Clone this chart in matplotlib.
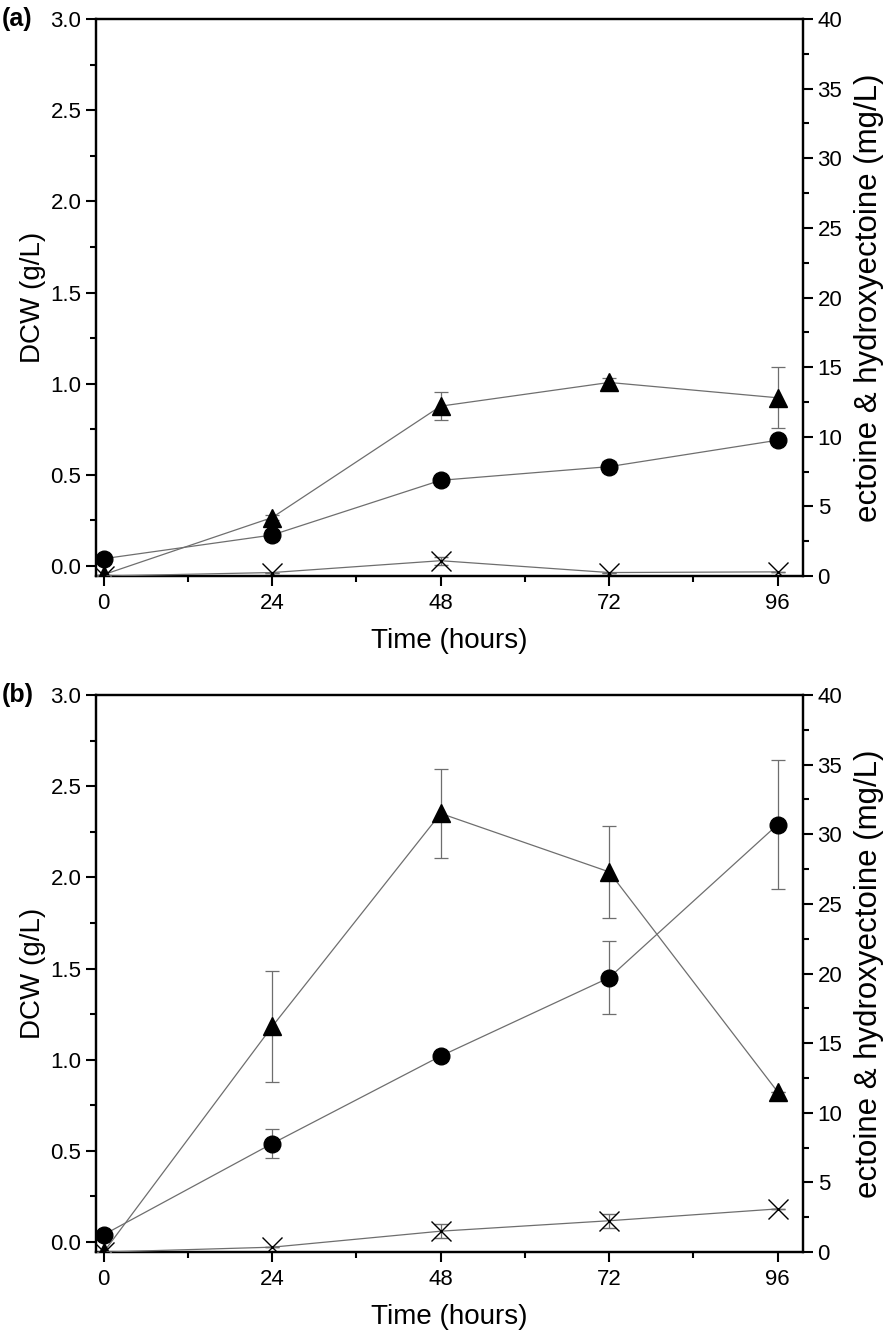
import matplotlib
matplotlib.use("Agg")
import matplotlib.pyplot as plt
from matplotlib.ticker import MultipleLocator

plt.rcParams['font.family'] = ['Liberation Sans', 'DejaVu Sans']

hours = [0, 24, 48, 72, 96]

# panel (a)
dcw_a = [0.04, 0.17, 0.47, 0.545, 0.69]
dcw_a_err = [0.0, 0.03, 0.01, 0.03, 0.01]
ect_a = [0.1, 4.2, 12.2, 13.9, 12.8]
ect_a_err = [0.0, 0.2, 1.0, 0.35, 2.2]
hyd_a = [0.0, 0.25, 1.1, 0.25, 0.3]
hyd_a_err = [0.0, 0.0, 0.3, 0.0, 0.0]

# panel (b)
dcw_b = [0.04, 0.54, 1.02, 1.45, 2.29]
dcw_b_err = [0.0, 0.08, 0.0, 0.2, 0.355]
ect_b = [0.0, 16.2, 31.5, 27.3, 11.5]
ect_b_err = [0.0, 4.0, 3.2, 3.3, 0.0]
hyd_b = [0.0, 0.35, 1.5, 2.25, 3.1]
hyd_b_err = [0.0, 0.0, 0.5, 0.5, 0.0]

line_col = '#6e6e6e'

fig = plt.figure(figsize=(8.96, 13.3), dpi=100)


def draw_panel(rect, dcw, dcw_err, ect, ect_err, hyd, hyd_err, tag):
    ax = fig.add_axes(rect)
    ax2 = ax.twinx()

    ax.errorbar(hours, dcw, yerr=dcw_err, color=line_col, lw=0.9, ecolor=line_col,
                elinewidth=0.9, capsize=5, capthick=0.9, marker='o', ms=12,
                mfc='black', mec='black', zorder=3)
    ax2.errorbar(hours, ect, yerr=ect_err, color=line_col, lw=0.9, ecolor=line_col,
                 elinewidth=0.9, capsize=5, capthick=0.9, marker='^', ms=13.5,
                 mfc='black', mec='black', zorder=3)
    ax2.errorbar(hours, hyd, yerr=hyd_err, color=line_col, lw=0.9, ecolor=line_col,
                 elinewidth=0.9, capsize=5, capthick=0.9, marker='x', ms=14.5,
                 mec='black', mew=1.0, zorder=3)

    ax.set_xlim(-1.1, 99.6)
    ax.set_ylim(-0.055, 3.0)
    ax2.set_ylim(0, 40)
    ax.set_xticks(hours)
    ax.xaxis.set_minor_locator(MultipleLocator(12))
    ax.yaxis.set_major_locator(MultipleLocator(0.5))
    ax.yaxis.set_minor_locator(MultipleLocator(0.25))
    ax.yaxis.set_major_formatter(plt.FormatStrFormatter('%.1f'))
    ax2.yaxis.set_major_locator(MultipleLocator(5))
    ax2.yaxis.set_minor_locator(MultipleLocator(2.5))

    for a in (ax, ax2):
        for s in a.spines.values():
            s.set_linewidth(1.6)
        a.tick_params(which='major', direction='out', length=7, width=1.5, labelsize=16)
        a.tick_params(which='minor', direction='out', length=4, width=1.5)
    ax.tick_params(axis='x', pad=5)

    ax.set_xlabel('Time (hours)', fontsize=20, labelpad=10)
    ax.set_ylabel('DCW (g/L)', fontsize=20, labelpad=3)
    ax2.set_ylabel('ectoine & hydroxyectoine (mg/L)', fontsize=22.5, labelpad=8)

    fig.text(0.002, rect[1] + rect[3], tag, fontsize=18, fontweight='bold',
             ha='left', va='center')


draw_panel([0.1071, 0.5669, 0.7891, 0.4188], dcw_a, dcw_a_err, ect_a, ect_a_err,
           hyd_a, hyd_a_err, '(a)')
draw_panel([0.1071, 0.0586, 0.7891, 0.4188], dcw_b, dcw_b_err, ect_b, ect_b_err,
           hyd_b, hyd_b_err, '(b)')

fig.savefig('out.png', dpi=100)
